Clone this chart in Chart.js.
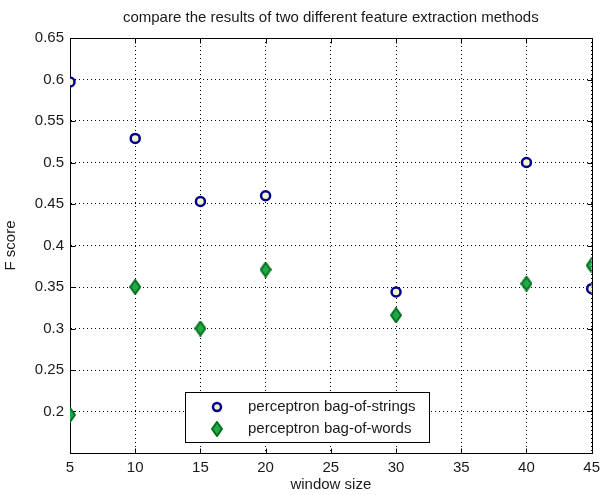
<!DOCTYPE html>
<html>
<head>
<meta charset="utf-8">
<script src="https://cdn.jsdelivr.net/npm/chart.js@4"></script>
<style>
  body { margin: 0; background: #fff; }
</style>
</head>
<body>
<canvas id="chart" width="606" height="495"></canvas>
<script>
const windowSizes = [5, 10, 15, 20, 30, 40, 45]
const bagOfStrings = [0.597, 0.529, 0.453, 0.460, 0.344, 0.500, 0.348]
const bagOfWords = [0.196, 0.350, 0.300, 0.371, 0.316, 0.354, 0.376]
const xTicks = [5, 10, 15, 20, 25, 30, 35, 40, 45]
const yTicks = [0.15, 0.2, 0.25, 0.3, 0.35, 0.4, 0.45, 0.5, 0.55, 0.6, 0.65]
const yTickLabels = ['', '0.2', '0.25', '0.3', '0.35', '0.4', '0.45', '0.5', '0.55', '0.6', '0.65']

const fontFamily = "'Liberation Sans', Arial, Helvetica, sans-serif"
const fontSize = 15
const textColor = '#1a1a1a'
const blue = '#000090'
const ringFill = '#f4f4c8'
const greenEdge = '#00701e'
const greenFill = '#22a844'

// tall matlab-like diamond marker
function makeDiamond() {
  const c = document.createElement('canvas')
  c.width = 12
  c.height = 16
  const g = c.getContext('2d')
  g.beginPath()
  g.moveTo(6, 1)
  g.lineTo(11, 8)
  g.lineTo(6, 15)
  g.lineTo(1, 8)
  g.closePath()
  g.fillStyle = greenFill
  g.fill()
  g.lineWidth = 2
  g.strokeStyle = greenEdge
  g.stroke()
  return c
}
const diamond = makeDiamond()

// frame + inward ticks like matlab
const framePlugin = {
  id: 'axesBox',
  beforeDatasetsDraw(chart) {
    const {ctx, chartArea: a, scales} = chart
    const l = Math.round(a.left) + 0.5, r = Math.round(a.right) + 0.5
    const t = Math.round(a.top) + 0.5, b = Math.round(a.bottom) + 0.5
    ctx.save()
    ctx.setLineDash([])
    ctx.strokeStyle = '#000'
    ctx.lineWidth = 1
    ctx.beginPath()
    ctx.moveTo(l, t); ctx.lineTo(r, t); ctx.lineTo(r, b); ctx.lineTo(l, b); ctx.closePath()
    xTicks.forEach(v => {
      const x = Math.round(scales.x.getPixelForValue(v)) + 0.5
      ctx.moveTo(x, b); ctx.lineTo(x, b - 5)
      ctx.moveTo(x, t); ctx.lineTo(x, t + 5)
    })
    yTicks.forEach(v => {
      const y = Math.round(scales.y.getPixelForValue(v)) + 0.5
      ctx.moveTo(l, y); ctx.lineTo(l + 5, y)
      ctx.moveTo(r, y); ctx.lineTo(r - 5, y)
    })
    ctx.stroke()
    ctx.restore()
  }
}

// legend box sitting inside the axes, lower middle
const legendPlugin = {
  id: 'boxLegend',
  afterDraw(chart) {
    const {ctx, chartArea: a} = chart
    const left = Math.round(a.left) + 115, top = Math.round(a.bottom) - 61, w = 244, h = 50
    ctx.save()
    ctx.setLineDash([])
    ctx.fillStyle = '#fff'
    ctx.fillRect(left, top, w, h)
    ctx.strokeStyle = '#000'
    ctx.lineWidth = 1
    ctx.strokeRect(left + 0.5, top + 0.5, w, h)
    const rows = [top + 15, top + 37]
    ctx.beginPath()
    ctx.arc(left + 32, rows[0], 4, 0, Math.PI * 2)
    ctx.fillStyle = ringFill
    ctx.fill()
    ctx.lineWidth = 2.5
    ctx.strokeStyle = blue
    ctx.stroke()
    ctx.drawImage(diamond, left + 32 - 6, rows[1] - 8)
    ctx.fillStyle = textColor
    ctx.font = fontSize + 'px ' + fontFamily
    ctx.textBaseline = 'middle'
    ctx.fillText(chart.data.datasets[0].label, left + 63, rows[0])
    ctx.fillText(chart.data.datasets[1].label, left + 63, rows[1])
    ctx.restore()
  }
}

const data = {
  datasets: [
    {
      label: 'perceptron bag-of-strings',
      data: windowSizes.map((x, i) => ({x: x, y: bagOfStrings[i]})),
      pointStyle: 'circle',
      pointRadius: 4.5,
      pointBorderWidth: 2.5,
      borderColor: blue,
      backgroundColor: ringFill,
      showLine: false
    },
    {
      label: 'perceptron bag-of-words',
      data: windowSizes.map((x, i) => ({x: x, y: bagOfWords[i]})),
      pointStyle: diamond,
      pointRadius: 7,
      borderColor: greenEdge,
      backgroundColor: greenFill,
      showLine: false
    }
  ]
}

const gridDots = {color: '#000', lineWidth: 1, drawTicks: false}
const tickFont = {size: fontSize, family: fontFamily}

const config = {
  type: 'scatter',
  data: data,
  options: {
    responsive: false,
    animation: false,
    layout: {padding: {left: 0, right: 8, top: 0, bottom: 0}},
    scales: {
      x: {
        type: 'linear',
        min: 5,
        max: 45,
        afterBuildTicks: s => { s.ticks = xTicks.map(v => ({value: v})) },
        afterFit: s => { s.height = 42 },
        grid: gridDots,
        border: {display: true, color: '#000', width: 1, dash: [1, 3]},
        ticks: {
          padding: 6,
          color: textColor,
          font: tickFont,
          maxRotation: 0,
          callback: v => String(v)
        },
        title: {
          display: true,
          text: 'window size',
          color: textColor,
          font: tickFont,
          padding: {top: 0, bottom: 1}
        }
      },
      y: {
        min: 0.15,
        max: 0.65,
        afterBuildTicks: s => { s.ticks = yTicks.map(v => ({value: v})) },
        afterFit: s => { s.width = 70 },
        grid: gridDots,
        border: {display: true, color: '#000', width: 1, dash: [1, 3]},
        ticks: {
          padding: 6,
          color: textColor,
          font: tickFont,
          callback: (v, i) => yTickLabels[i]
        },
        title: {
          display: true,
          text: 'F score',
          color: textColor,
          font: tickFont,
          padding: {top: 2, bottom: 0}
        }
      }
    },
    plugins: {
      legend: {display: false},
      tooltip: {enabled: false},
      title: {
        display: true,
        fullSize: false,
        text: 'compare the results of two different feature extraction methods',
        color: textColor,
        font: {size: fontSize, family: fontFamily, weight: 'normal'},
        padding: {top: 9, bottom: 11}
      }
    }
  },
  plugins: [framePlugin, legendPlugin]
}

const scoreChart = new Chart(document.getElementById('chart'), config)
</script>
</body>
</html>
